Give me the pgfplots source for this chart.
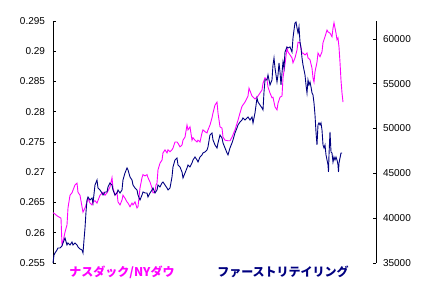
\documentclass[border=0pt]{standalone}
\usepackage{pgfplots}
\pgfplotsset{compat=1.18}
\usepackage{fontspec}
\setmainfont{Liberation Sans}
\newfontfamily\cjk{Noto Sans CJK JP}
\definecolor{mag}{HTML}{FF00FF}
\definecolor{nav}{HTML}{000080}
\begin{document}
\begin{tikzpicture}
\path[use as bounding box] (0,0) rectangle (429pt,289pt);
\begin{axis}[
  at={(53pt,26pt)}, anchor=south west,
  scale only axis, width=323pt, height=242pt,
  xmin=0, xmax=323,
  ymin=0.255, ymax=0.295,
  axis x line=none,
  axis y line*=left,
  axis line style={line width=0.8pt, -},
  ytick={0.255,0.26,0.265,0.27,0.275,0.28,0.285,0.29,0.295},
  tick align=inside, major tick length=3pt,
  tick style={line width=0.8pt, black},
  yticklabel style={font=\fontsize{10}{12}\selectfont, xshift=-4.5pt},
  /pgf/number format/assume math mode=true,
  /pgf/number format/fixed, /pgf/number format/precision=3,
  scaled y ticks=false,
  clip=false,
]
\addplot[mag, line width=0.9pt] coordinates {
(0,0.2633) (2,0.2631) (4,0.2628) (6,0.2626) (8,0.2624) (9,0.2580) (10,0.2585) (12,0.2601) (14,0.2613) (15,0.2641)
(17,0.2662) (19,0.2666) (22,0.2679) (24,0.2682) (25,0.2667) (27,0.2662) (29,0.2643) (30,0.2634) (32,0.2641) (34,0.2651)
(35,0.2657) (37,0.2649) (39,0.2646) (40,0.2651) (42,0.2653) (44,0.2649) (47,0.2662) (50,0.2667) (52,0.2662) (54,0.2666)
(57,0.2676) (59,0.2691) (60,0.2674) (62,0.2662) (64,0.2667) (65,0.2651) (67,0.2646) (69,0.2654) (70,0.2662) (72,0.2657)
(74,0.2651) (75,0.2649) (77,0.2643) (79,0.2649) (80,0.2646) (82,0.2651) (84,0.2641) (85,0.2643) (87,0.2674) (89,0.2691)
(90,0.2696) (92,0.2694) (94,0.2696) (95,0.2691) (97,0.2684) (99,0.2674) (100,0.2666) (102,0.2667) (103,0.2679) (104,0.2682)
(105,0.2704) (107,0.2715) (109,0.2720) (110,0.2732) (112,0.2737) (114,0.2732) (115,0.2737) (117,0.2734) (119,0.2737) (120,0.2740)
(122,0.2750) (124,0.2750) (125,0.2748) (127,0.2742) (129,0.2745) (130,0.2753) (132,0.2758) (134,0.2778) (135,0.2770) (137,0.2775)
(139,0.2753) (140,0.2757) (142,0.2753) (144,0.2750) (145,0.2753) (147,0.2750) (149,0.2765) (150,0.2770) (152,0.2767) (154,0.2765)
(155,0.2770) (157,0.2778) (159,0.2790) (160,0.2798) (162,0.2811) (164,0.2816) (165,0.2798) (167,0.2775) (169,0.2773) (170,0.2758)
(172,0.2753) (175,0.2752) (177,0.2752) (179,0.2758) (182,0.2770) (185,0.2786) (187,0.2798) (189,0.2809) (192,0.2816) (195,0.2826)
(196,0.2839) (199,0.2826) (202,0.2821) (205,0.2826) (209,0.2836) (210,0.2847) (212,0.2856) (214,0.2853) (215,0.2841) (217,0.2831)
(219,0.2823) (220,0.2824) (222,0.2808) (224,0.2803) (225,0.2814) (227,0.2824) (229,0.2826) (230,0.2856) (232,0.2879) (234,0.2905)
(235,0.2899) (237,0.2894) (239,0.2889) (240,0.2881) (242,0.2889) (244,0.2902) (245,0.2915) (247,0.2914) (249,0.2897) (250,0.2897)
(252,0.2894) (254,0.2897) (255,0.2889) (257,0.2886) (259,0.2872) (260,0.2856) (261,0.2849) (262,0.2866) (264,0.2882) (265,0.2897)
(267,0.2891) (269,0.2899) (270,0.2914) (272,0.2924) (274,0.2935) (275,0.2932) (277,0.2930) (279,0.2924) (280,0.2938) (281,0.2947)
(283,0.2930) (284,0.2919) (285,0.2922) (286,0.2907) (287,0.2882) (288,0.2852) (289,0.2831) (290,0.2816)
};
\end{axis}
\begin{axis}[
  at={(53pt,26pt)}, anchor=south west,
  scale only axis, width=323pt, height=242pt,
  xmin=0, xmax=323,
  ymin=35000, ymax=62000,
  axis x line=none,
  axis y line*=right,
  axis line style={line width=0.8pt, -},
  ytick={35000,40000,45000,50000,55000,60000},
  tick align=inside, major tick length=3pt,
  tick style={line width=0.8pt, black},
  yticklabel style={font=\fontsize{10}{12}\selectfont, xshift=3.5pt},
  /pgf/number format/assume math mode=true,
  /pgf/number format/1000 sep={},
  scaled y ticks=false,
  clip=false,
]
\addplot[nav, line width=0.9pt] coordinates {
(0,35000) (1,35893) (2,36116) (4,36451) (5,36674) (7,36674) (9,36897) (10,37232) (12,37790) (14,37009)
(15,37232) (17,37009) (19,37344) (20,37009) (22,37232) (24,37009) (25,36786) (27,36563) (29,36451) (30,36116)
(31,37567) (32,38906) (33,40692) (34,42031) (35,42366) (37,42031) (39,42254) (40,41696) (42,43705) (44,44263)
(45,43371) (47,43147) (49,42812) (50,42589) (52,42924) (54,42924) (55,43482) (57,43929) (59,43705) (60,43147)
(62,42589) (64,42812) (65,43147) (67,42812) (69,43147) (70,44263) (72,45045) (74,45603) (75,45379) (77,44598)
(79,44263) (80,43705) (82,43371) (84,43147) (85,42589) (87,42031) (89,42589) (90,42924) (92,42812) (94,42812)
(95,42366) (97,42812) (99,43147) (100,43371) (102,42812) (104,43147) (105,43705) (107,43482) (109,43929) (110,44040)
(112,43705) (114,43371) (115,43147) (117,43371) (119,44598) (120,45714) (122,46496) (124,46719) (125,45938) (127,45714)
(129,45156) (130,44487) (132,45045) (134,45603) (135,45938) (137,45714) (139,46161) (140,46496) (142,46830) (144,46496)
(145,46272) (147,46830) (149,47054) (150,47277) (152,47388) (154,47612) (155,47946) (157,49286) (159,49509) (160,48728)
(162,48170) (164,47835) (165,48393) (167,49286) (169,48951) (170,48393) (172,47835) (174,47277) (175,47054) (177,47835)
(179,48393) (180,48728) (182,49509) (184,50067) (185,50402) (187,50737) (189,50960) (190,51183) (192,50960) (194,51183)
(195,51295) (197,50960) (199,51295) (200,50625) (202,51741) (204,53415) (205,52969) (207,52634) (209,52299) (210,52076)
(211,54085) (212,55424) (214,55424) (215,55982) (217,54866) (219,55424) (220,57098) (221,57879) (222,56763) (224,55201)
(225,55982) (226,57321) (227,56317) (228,54866) (229,56205) (230,57433) (231,56763) (232,58549) (234,59107) (235,58996)
(237,59107) (239,58549) (240,60112) (241,61004) (242,61786) (243,61897) (244,61228) (245,60670) (246,61339) (247,59665)
(248,58996) (249,57879) (250,57098) (251,56540) (252,55982) (253,54866) (254,53973) (255,55424) (256,54866) (257,55201)
(258,54643) (259,53973) (260,53750) (261,52857) (262,51518) (263,49620) (264,48170) (265,50402) (266,50625) (267,50402)
(268,50625) (269,49844) (270,48170) (271,47835) (272,48170) (273,47054) (274,46496) (275,45938) (275.5,45156) (276,47054)
(277,49620) (278,47388) (279,47277) (280,46272) (281,46830) (282,46496) (283,46830) (284,46496) (285,45938) (285.5,45156)
(286,46161) (287,46719) (288,47277) (289,47277)
};
\end{axis}
\node[text=mag, font=\cjk\bfseries\fontsize{12}{14}\selectfont, inner sep=0pt] at (122pt,17pt) {ナスダック/NYダウ};
\node[text=nav, font=\cjk\bfseries\fontsize{12}{14}\selectfont, inner sep=0pt] at (283pt,17pt) {ファーストリテイリング};
\end{tikzpicture}
\end{document}
